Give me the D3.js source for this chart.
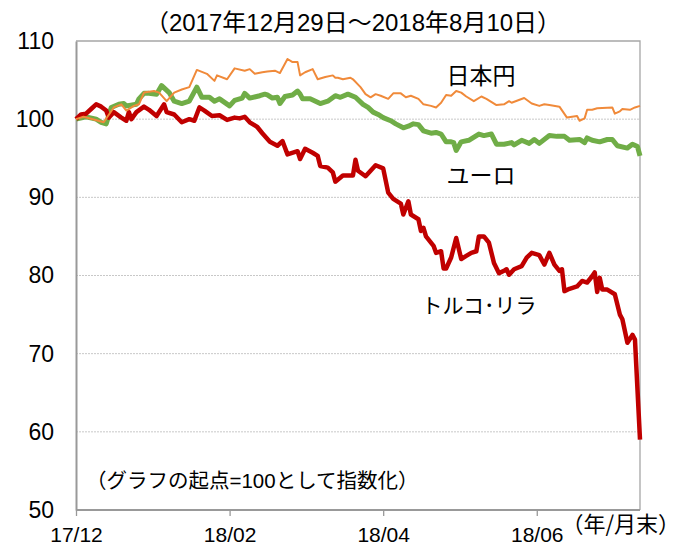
<!DOCTYPE html>
<html>
<head>
<meta charset="utf-8">
<script src="https://cdn.jsdelivr.net/npm/d3@7"></script>
<style>
  body { margin: 0; background: #fff; }
  svg text { font-family: "Liberation Sans", Arial, "Noto Sans CJK JP", sans-serif; fill: #000; }
  .jp { font-family: "Noto Sans CJK JP", "Liberation Sans", sans-serif; }
</style>
</head>
<body>
<svg width="680" height="550"></svg>
<script>
// start date of the index (= 100), each series keyed by days since then
var startDate = new Date(2017, 11, 29);
var endDate = new Date(2018, 7, 10);

var yenDays = [0,3,11,15,18,20,23,25,27,31,33,36,39,42,45,48,52,55,56,60,63,67,69,71,74,76,79,81,84,86,88,89,91,94,96,99,102,103,104,106,109,110,113,115,117,119,121,124,126,129,131,133,136,138,141,143,145,147,149,151,153,155,158,161,163,167,170,172,173,178,181,184,186,188,192,195,197,199,200,202,203,205,207,213,214,216,217,220,222,224];
var yenValues = [100.0,100.3,99.6,101.5,101.9,101.1,101.7,101.9,103.4,103.6,103.4,102.3,103.4,103.8,104.1,106.3,105.8,104.9,105.6,105.1,106.5,106.2,106.4,105.8,106.0,106.1,106.2,105.9,107.7,107.3,107.3,105.6,106.0,106.4,105.1,105.4,105.6,105.3,105.3,105.1,105.3,105.1,104.1,103.2,102.8,103.2,103.0,102.6,103.3,103.3,102.8,103.0,102.6,101.9,101.7,101.5,102.1,103.1,103.0,103.6,103.4,102.9,102.3,102.9,102.6,101.8,101.9,102.3,102.1,102.7,102.0,101.7,101.9,101.8,101.6,100.2,100.3,100.4,99.8,100.1,101.2,101.2,101.4,101.5,100.7,101.0,101.3,101.2,101.5,101.7];

var euroDays = [0,4,8,10,12,14,17,19,20,24,25,27,29,32,34,37,39,42,45,48,50,53,55,57,61,63,66,67,69,73,75,76,78,80,81,83,86,88,89,90,93,97,100,103,105,108,111,114,116,118,120,122,125,127,130,132,134,136,138,141,143,145,147,149,150,151,153,156,160,162,165,167,170,173,174,177,180,182,184,188,191,194,196,200,202,203,205,208,211,213,215,219,221,223,224];
var euroValues = [100.0,100.3,100.0,99.6,99.4,101.5,101.9,102.0,101.7,101.9,102.6,103.3,103.3,103.2,104.3,103.4,102.3,102.0,102.3,104.1,102.8,102.8,102.3,102.6,101.7,102.4,102.7,103.3,102.7,103.0,103.2,103.1,102.7,102.8,102.0,102.9,103.1,103.6,103.2,102.6,102.6,102.0,102.3,103.0,102.8,103.2,102.8,101.9,101.5,100.9,100.6,100.2,99.8,99.4,98.9,99.1,99.4,99.3,98.5,98.2,98.3,98.1,97.1,97.1,97.0,96.0,97.1,97.3,98.1,97.9,98.1,96.8,96.8,97.0,96.7,97.3,96.9,97.4,96.9,97.9,97.8,97.8,97.3,97.4,97.0,97.6,97.3,97.1,97.4,97.4,96.6,96.3,96.8,96.5,95.3];

var liraDays = [0,2,4,6,8,10,12,13,15,18,20,21,22,24,27,29,32,35,36,39,42,45,47,49,51,54,57,60,63,65,67,69,72,74,77,80,82,84,88,89,91,94,96,97,100,102,103,106,110,111,112,115,117,119,122,124,126,129,130,132,133,136,137,138,139,142,143,145,146,147,149,151,153,155,157,159,160,162,164,166,168,170,171,172,174,177,179,181,184,186,188,190,192,193,194,196,199,201,203,205,206,207,208,209,211,214,216,217,219,221,222,224];
var liraValues = [100.0,100.6,100.7,101.3,101.9,101.6,101.1,100.2,100.9,100.2,99.8,100.9,100.0,100.9,101.6,101.2,100.4,101.9,100.9,100.6,99.6,100.0,99.8,101.5,101.1,100.4,100.5,99.9,100.2,100.1,100.3,99.6,99.0,98.2,97.1,96.6,97.2,95.5,95.9,94.9,96.2,95.7,95.3,94.0,93.8,93.2,92.0,92.8,92.8,94.8,93.4,92.7,93.4,94.1,93.7,90.6,89.8,89.2,87.8,89.5,87.8,87.2,85.7,86.1,85.0,83.8,82.9,83.1,80.9,80.9,82.3,84.8,82.1,82.5,82.9,83.1,85.0,85.0,84.2,81.6,80.3,80.6,80.8,80.1,80.8,81.2,82.3,82.9,82.6,81.4,82.9,81.4,80.6,80.8,78.0,78.3,78.6,79.3,79.1,79.9,80.4,77.9,79.7,78.2,78.2,77.6,75.0,74.4,71.4,72.4,71.8,59.0];

var yTicks = [50, 60, 70, 80, 90, 100, 110];
var tickDates = [new Date(2017, 11, 29), new Date(2018, 1, 28), new Date(2018, 3, 30), new Date(2018, 5, 30)];
var tickLabels = ['17/12', '18/02', '18/04', '18/06'];

var plotLeft = 76, plotRight = 640, plotTop = 41, plotBottom = 510;

var svg = d3.select('svg');

var x = d3.scaleTime().domain([startDate, endDate]).range([plotLeft, plotRight]);
var y = d3.scaleLinear().domain([50, 110]).range([plotBottom, plotTop]);

function toPoints(days, values){
	return days.map(function(d, i){
		return {date: d3.timeDay.offset(startDate, d), value: values[i]};
	});
}

// dotted grid
svg.append('g').selectAll('line')
	.data(yTicks.filter(function(t){ return t > 50 && t < 110; }))
	.enter().append('line')
	.attr('x1', plotLeft).attr('x2', plotRight)
	.attr('y1', function(d){ return y(d); }).attr('y2', function(d){ return y(d); })
	.attr('stroke', '#c8c8c8').attr('stroke-width', 1).attr('stroke-dasharray', '2,1');

// frame top / right
svg.append('path')
	.attr('d', 'M' + plotLeft + ',' + y(110) + 'H' + plotRight + 'V' + plotBottom)
	.attr('fill', 'none').attr('stroke', '#a6a6a6').attr('stroke-width', 1.3);

// y axis
var yAxis = svg.append('g')
	.attr('transform', 'translate(' + plotLeft + ',0)')
	.call(d3.axisLeft(y).tickValues(yTicks).tickSize(0).tickPadding(22));
yAxis.select('.domain').attr('stroke', '#999').attr('stroke-width', 2);
yAxis.selectAll('text').style('font-size', '23px');

// x axis
var xAxis = svg.append('g')
	.attr('transform', 'translate(0,' + plotBottom + ')')
	.call(d3.axisBottom(x).tickValues(tickDates).tickSize(6).tickPadding(11)
		.tickFormat(function(d, i){ return tickLabels[i]; }));
xAxis.select('.domain').attr('stroke', '#999').attr('stroke-width', 2).attr('d', 'M' + plotLeft + ',0H' + plotRight);
xAxis.selectAll('line').attr('stroke', '#999').attr('stroke-width', 1.3);
xAxis.selectAll('text').style('font-size', '21px');

var line = d3.line()
	.x(function(d){ return x(d.date); })
	.y(function(d){ return y(d.value); });

var series = [
	{pts: toPoints(euroDays, euroValues), color: '#70ad47', width: 5},
	{pts: toPoints(liraDays, liraValues), color: '#c00000', width: 4.5},
	{pts: toPoints(yenDays, yenValues), color: '#f08a3a', width: 2}
];

series.forEach(function(s){
	svg.append('path')
		.datum(s.pts)
		.attr('d', line)
		.attr('fill', 'none')
		.attr('stroke', s.color)
		.attr('stroke-width', s.width)
		.attr('stroke-linejoin', 'round');
});

// texts
svg.append('text').attr('x', 353).attr('y', 31)
	.attr('text-anchor', 'middle').style('font-size', '24px')
	.text('（2017年12月29日～2018年8月10日）');
svg.append('text').attr('class', 'jp').attr('x', 481).attr('y', 84)
	.attr('text-anchor', 'middle').style('font-size', '23px').text('日本円');
svg.append('text').attr('class', 'jp').attr('x', 481).attr('y', 184)
	.attr('text-anchor', 'middle').style('font-size', '23px').text('ユーロ');
svg.append('text').attr('class', 'jp').attr('x', 479).attr('y', 313)
	.attr('text-anchor', 'middle').style('font-size', '21px').text('トルコ･リラ');
svg.append('text').attr('x', 86).attr('y', 488)
	.style('font-size', '20.5px').text('（グラフの起点=100として指数化）');
svg.append('text').attr('class', 'jp').attr('x', 680).attr('y', 532)
	.attr('text-anchor', 'end').style('font-size', '22px').text('（年/月末）');
</script>
</body>
</html>
